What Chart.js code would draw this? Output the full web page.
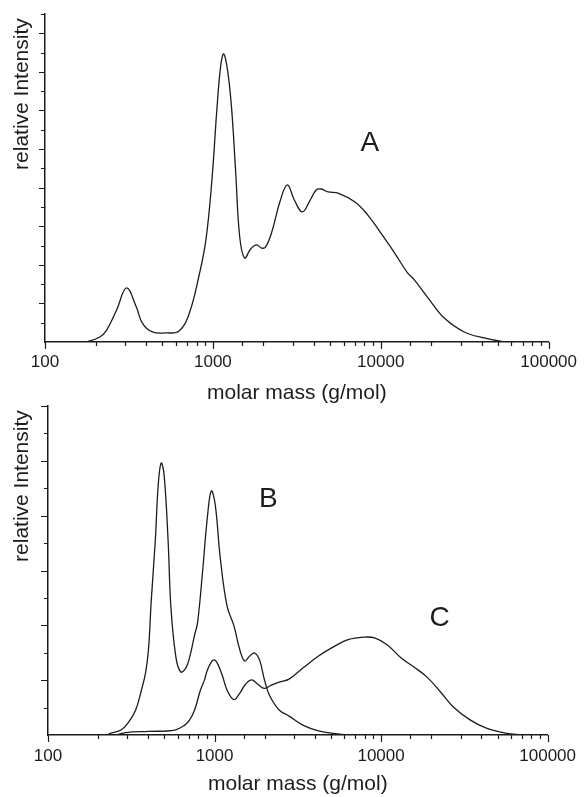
<!DOCTYPE html>
<html>
<head>
<meta charset="utf-8">
<style>
  body { margin: 0; background: #fff; }
  canvas { position: absolute; left: 0; }
  #chartTop { top: 0; }
  #chartBottom { top: 395px; }
</style>
</head>
<body>
<canvas id="chartTop" width="587" height="406"></canvas>
<canvas id="chartBottom" width="587" height="402"></canvas>

<script src="https://cdn.jsdelivr.net/npm/chart.js"></script>
<script>
// molar mass (g/mol) and relative intensity
const massA = [150, 180, 212, 233, 267, 306, 350, 380, 436, 527, 629, 721, 826, 909, 987, 1056, 1115, 1162, 1227, 1295,
  1368, 1445, 1546, 1679, 1822, 1950, 2059, 2234, 2526, 2779, 3057, 3409, 3802, 4125, 4416, 4858, 5568, 7019, 8378, 10000,
  12100, 14440, 15890, 18970, 23920, 31410, 41250, 52720, 64690];
const intensityA = [0, 0.03, 0.26, 0.62, 1.66, 2.80, 1.81, 0.98, 0.52, 0.47, 0.57, 1.45, 3.42, 5.29, 8.40, 12.03, 14.36, 14.93, 14.00, 12.03,
  8.76, 5.44, 4.35, 4.82, 5.03, 4.87, 4.92, 5.65, 7.36, 8.14, 7.36, 6.74, 7.36, 7.88, 7.93, 7.78, 7.72, 7.26, 6.58, 5.65,
  4.61, 3.58, 3.21, 2.33, 1.24, 0.52, 0.21, 0.03, 0];

const massB = [226, 239, 274, 305, 336, 364, 385, 401, 417, 441, 459, 478, 498, 526, 547, 586, 627, 672, 709, 759,
  790, 846, 906, 956, 1010, 1081, 1189, 1308, 1419, 1518, 1625, 1740, 1862, 1994, 2133, 2444, 2801, 3388, 4211, 5304, 6509];
const intensityB = [0, 0.07, 0.18, 0.47, 0.91, 1.64, 2.26, 3.10, 4.92, 7.11, 9.12, 9.92, 9.48, 7.11, 4.67, 2.84, 2.30, 2.44, 2.84, 3.65,
  4.08, 5.91, 7.95, 8.90, 8.39, 6.49, 4.70, 3.98, 3.10, 2.70, 2.88, 2.99, 2.74, 2.01, 1.46, 0.91, 0.69, 0.36, 0.15, 0.05, 0];

const massC = [259, 293, 401, 578, 662, 709, 759, 823, 870, 906, 956, 996, 1037, 1111, 1189, 1308, 1419, 1539, 1670, 1812,
  1994, 2192, 2444, 2801, 3388, 4211, 5304, 6332, 7873, 9143, 10910, 13200, 15750, 18800, 22740, 27140, 34200, 42510, 55800, 70300];
const intensityC = [0, 0.09, 0.13, 0.18, 0.36, 0.55, 0.91, 1.64, 2.01, 2.37, 2.66, 2.74, 2.63, 2.19, 1.64, 1.29, 1.53, 1.86, 2.01, 1.86,
  1.70, 1.82, 1.93, 2.04, 2.44, 2.88, 3.25, 3.48, 3.57, 3.54, 3.28, 2.81, 2.48, 2.12, 1.57, 1.02, 0.55, 0.26, 0.07, 0];

const xTickLabels = ['100', '1000', '10000', '100000'];
const xTitle = 'molar mass (g/mol)';
const yTitle = 'relative Intensity\u2009';

const FONT = '"Liberation Sans", Arial, Helvetica, sans-serif';
const INK = '#1c1c1c';

function pts(xs, ys) {
  return xs.map((m, i) => ({x: m, y: ys[i]}));
}

// axis tick marks (long on decades / even steps) and the curve letters
const tickMarks = {
  id: 'tickMarks',
  afterDraw(chart, args, o) {
    const {ctx, scales: {x, y}} = chart;
    ctx.save();
    ctx.strokeStyle = INK;
    ctx.lineWidth = 1.2;
    ctx.beginPath();
    x.ticks.forEach(t => {
      const px = Math.round(x.getPixelForValue(t.value)) + 0.5;
      const lg = Math.log10(t.value);
      const major = Math.abs(lg - Math.round(lg)) < 1e-6;
      ctx.moveTo(px, x.top);
      ctx.lineTo(px, x.top + (major ? 7 : 4));
    });
    y.ticks.forEach(t => {
      if (t.value === 0) return;
      const py = Math.round(y.getPixelForValue(t.value)) + 0.5;
      ctx.moveTo(y.right, py);
      ctx.lineTo(y.right - (t.value % 2 === 0 ? o.yMajor : 4), py);
    });
    ctx.stroke();
    ctx.fillStyle = INK;
    ctx.font = '28px ' + FONT;
    ctx.textAlign = 'center';
    ctx.textBaseline = 'middle';
    o.letters.forEach(l => {
      ctx.fillText(l.text, x.getPixelForValue(l.at[0]), y.getPixelForValue(l.at[1]));
    });
    ctx.restore();
  }
};

function makeChart(id, datasets, cfg) {
  return new Chart(document.getElementById(id), {
    type: 'line',
    data: {datasets: datasets},
    options: {
      responsive: false,
      animation: false,
      devicePixelRatio: 1,
      layout: {padding: {left: 0, top: cfg.top, right: cfg.right, bottom: 0}},
      plugins: {legend: {display: false}, tooltip: {enabled: false}, tickMarks: {letters: cfg.letters, yMajor: cfg.yMajor}},
      elements: {point: {radius: 0}},
      scales: {
        x: {
          type: 'logarithmic',
          min: 100,
          max: 100000,
          afterFit: s => { s.height = cfg.xHeight; },
          grid: {display: false, drawTicks: false},
          border: {display: true, color: INK, width: 1.5},
          ticks: {
            autoSkip: false,
            maxRotation: 0,
            padding: cfg.labelPad,
            color: INK,
            font: {family: FONT, size: 17},
            callback: v => {
              const s = String(v);
              return xTickLabels.includes(s) ? s : '';
            }
          },
          title: {display: true, text: xTitle, color: INK, font: {family: FONT, size: 21}, padding: 0}
        },
        y: {
          min: 0,
          max: cfg.yMax,
          afterFit: s => { s.width = cfg.yWidth; },
          grid: {display: false, drawTicks: false},
          border: {display: true, color: INK, width: 1.5},
          ticks: {display: false, stepSize: 1},
          title: {display: true, text: yTitle, align: 'end', color: INK, font: {family: FONT, size: 21}, padding: {top: 10, bottom: 0}}
        }
      }
    },
    plugins: [tickMarks]
  });
}

function curve(xs, ys) {
  return {
    data: pts(xs, ys),
    borderColor: INK,
    borderWidth: 1.3,
    tension: 0.4,
    fill: false
  };
}

makeChart('chartTop', [curve(massA, intensityA)], {
  top: 14, right: 35, xHeight: 64, yWidth: 45, yMax: 17, yMajor: 6, labelPad: 10,
  letters: [{text: 'A', at: [8610, 10.3]}]
});

makeChart('chartBottom', [curve(massB, intensityB), curve(massC, intensityC)], {
  top: 11, right: 31, xHeight: 62, yWidth: 48, yMax: 12, yMajor: 7, labelPad: 11,
  letters: [{text: 'B', at: [2105, 8.6]}, {text: 'C', at: [22430, 4.27]}]
});
</script>
</body>
</html>
